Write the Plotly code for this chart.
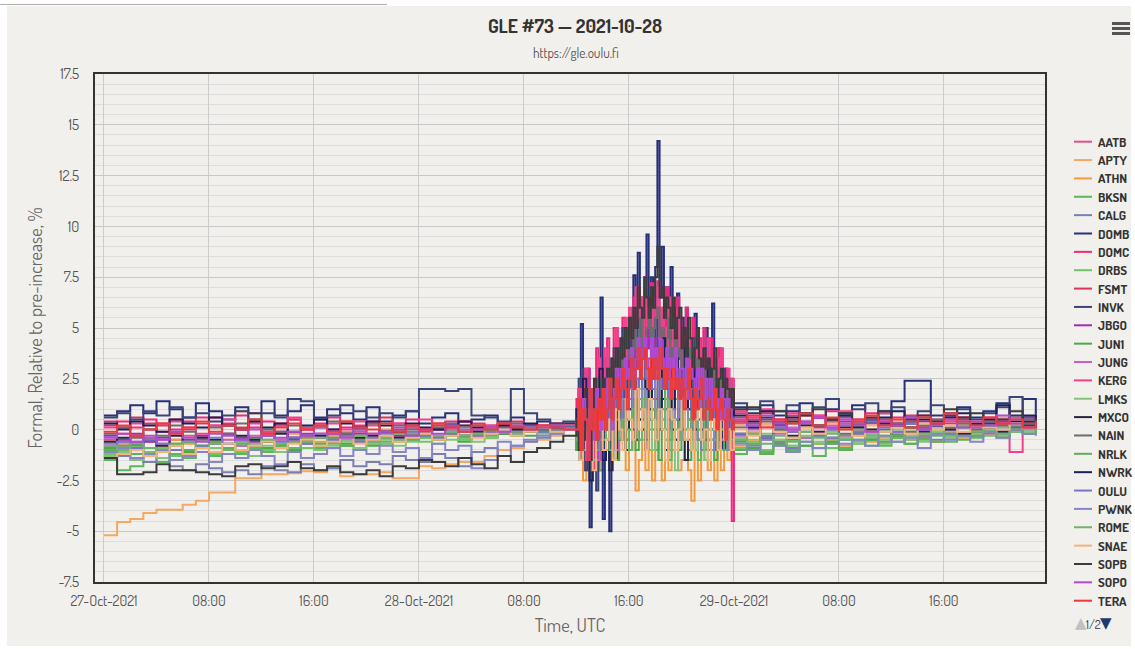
import pandas as pd
import plotly.graph_objects as go

# ---------------- data (percent, relative to pre-increase) ----------------
STATIONS = ["AATB", "APTY", "ATHN", "BKSN", "CALG", "DOMB", "DOMC", "DRBS", "FSMT",
            "INVK", "JBGO", "JUN1", "JUNG", "KERG", "LMKS", "MXCO", "NAIN", "NRLK",
            "NWRK", "OULU", "PWNK", "ROME", "SNAE", "SOPB", "SOPO", "TERA"]

# hourly 27-Oct 00:00 .. 28-Oct 11:00 ; burst 28-Oct 12:00 .. 24:00 (48 x 15-min or 72 x 10-min) ;
# hourly 29-Oct 00:00 .. 23:00
PRE_START, PRE_N = "2021-10-27 00:00", 36
BURST_START, BURST_HOURS = "2021-10-28 12:00", 12
POST_START, POST_N = "2021-10-29 00:00", 24

AATB_PRE = [-0.5,-0.6,-0.3,-0.4,-0.7,-0.5,-0.3,-0.4,-0.6,-0.2,-0.4,-0.5,
            -0.3,-0.1,-0.4,-0.3,-0.2,-0.5,-0.3,-0.1,-0.2,-0.4,-0.1,-0.2,
            0.0,-0.3,-0.1,0.1,-0.2,0.0,0.1,-0.1,0.2,0.0,0.1,0.3]
APTY_PRE = [-5.2,-4.55,-4.4,-4.1,-3.95,-3.95,-3.7,-3.5,-3.1,-3.1,-2.4,-2.4,
            -2.2,-2.2,-2.15,-2.05,-2.1,-1.9,-2.3,-2.2,-2.2,-2.1,-2.4,-2.4,
            -1.8,-1.9,-1.7,-1.6,-1.6,-1.3,-1.0,-0.9,-0.6,-0.5,-0.3,0.0]
ATHN_PRE = [-0.9,-0.7,-1.0,-0.6,-0.8,-0.5,-0.7,-0.4,-0.6,-0.5,0.9,0.8,
            -0.3,-0.5,-0.2,-0.4,-0.6,-0.3,-0.1,-0.4,-0.2,0.0,-0.3,-0.1,
            -0.2,0.1,-0.1,0.2,0.0,-0.2,0.1,0.3,0.0,0.2,0.1,0.2]
BKSN_PRE = [-1.5,-2.0,-1.8,-1.3,-1.6,-1.2,-1.4,-1.1,-1.3,-1.0,-1.2,-0.9,
            -1.1,-0.8,-1.0,-0.7,-0.9,-0.6,-0.8,-0.5,-0.7,-0.6,-0.4,-0.5,
            -0.3,-0.5,-0.2,-0.4,-0.1,-0.3,-0.2,0.0,-0.1,0.1,0.0,0.1]
CALG_PRE = [-1.0,-1.3,-1.2,-1.6,-1.4,-1.8,-2.0,-1.7,-1.9,-2.1,-2.0,-2.2,
            -1.8,-2.0,-2.1,-1.7,-2.0,-1.9,-1.5,-1.8,-1.6,-1.7,-1.3,-1.5,
            -1.6,-1.2,-1.4,-1.8,-1.1,-0.9,-1.3,-0.8,-0.6,-0.4,-0.2,0.0]
DOMB_PRE = [0.7,0.9,1.2,0.8,1.4,1.0,0.6,1.3,0.9,0.5,1.1,0.8,
            1.4,0.7,0.9,1.2,0.6,1.0,0.8,0.5,1.1,0.4,0.7,0.9,
            0.3,0.6,0.8,0.2,0.5,0.7,0.3,0.6,0.2,0.4,0.1,0.3]
DOMC_PRE = [0.2,0.4,0.1,0.5,0.3,0.0,0.4,0.6,0.2,0.3,0.7,0.1,
            0.4,0.2,0.5,0.0,0.3,0.6,0.1,0.2,0.4,-0.1,0.3,0.5,
            0.0,0.2,0.4,-0.1,0.3,0.1,0.2,0.4,0.0,0.2,0.3,0.1]
DRBS_PRE = [-1.2,-1.0,-1.4,-1.1,-0.9,-1.3,-1.0,-0.8,-1.2,-0.9,-1.1,-0.7,
            -1.0,-0.8,-0.6,-0.9,-0.7,-0.5,-0.8,-0.6,-0.4,-0.7,-0.5,-0.3,
            -0.6,-0.4,-0.2,-0.5,-0.3,-0.1,-0.2,-0.3,0.0,-0.1,0.1,0.0]
FSMT_PRE = [0.4,0.1,0.6,0.3,0.2,0.5,0.0,0.3,0.6,0.2,0.1,0.4,
            -0.1,0.3,0.5,0.0,0.2,-0.2,0.4,0.1,0.3,0.6,0.0,0.2,
            -0.1,0.3,0.1,0.4,0.0,0.2,0.3,-0.1,0.2,0.1,0.3,0.0]
INVK_PRE = [0.6,0.8,0.5,0.9,0.7,1.1,0.6,0.8,0.4,0.7,0.9,0.5,
            0.8,0.6,1.5,1.4,0.5,0.7,1.2,0.9,0.6,0.8,0.6,0.9,
            2.0,2.0,1.9,2.0,0.7,0.6,0.4,2.0,0.8,0.5,0.3,0.4]
JBGO_PRE = [-0.3,-0.5,-0.2,-0.6,-0.4,-0.1,-0.5,-0.3,-0.7,-0.2,-0.4,-0.6,
            -0.3,-0.1,-0.5,-0.2,-0.4,0.0,-0.3,-0.2,-0.5,-0.1,-0.3,0.1,
            -0.2,-0.4,0.0,-0.1,-0.3,0.1,-0.2,0.0,0.2,-0.1,0.1,0.0]
JUN1_PRE = [-0.9,-1.1,-0.8,-1.2,-1.0,-0.7,-1.1,-0.9,-0.6,-1.0,-0.8,-0.5,
            -0.9,-0.7,-1.0,-0.6,-0.8,-0.4,-0.7,-0.5,-0.8,-0.3,-0.6,-0.4,
            -0.2,-0.5,-0.3,-0.6,-0.1,-0.4,-0.2,0.0,-0.3,-0.1,0.1,0.0]
JUNG_PRE = [-0.7,-0.8,-0.6,-0.9,-0.5,-0.8,-0.6,-0.4,-0.7,-0.5,-0.8,-0.3,
            -0.6,-0.5,-0.4,-0.7,-0.3,-0.5,-0.2,-0.6,-0.4,-0.1,-0.5,-0.3,
            -0.2,-0.4,0.0,-0.3,-0.1,-0.2,0.1,-0.1,0.0,0.1,-0.1,0.1]
KERG_PRE = [0.1,-0.2,0.3,0.0,-0.1,0.4,0.1,-0.2,0.2,0.5,0.0,0.3,
            -0.1,0.2,0.6,0.1,-0.2,0.3,0.0,0.4,0.2,-0.1,0.3,0.1,
            0.5,0.0,0.2,0.4,-0.1,0.2,0.3,0.1,0.0,0.2,0.1,0.2]
LMKS_PRE = [-1.3,-1.1,-1.5,-1.2,-1.4,-1.0,-1.3,-1.1,-0.9,-1.2,-1.0,-1.3,
            -0.8,-1.1,-0.9,-0.7,-1.0,-0.8,-0.6,-0.9,-0.7,-0.5,-0.8,-0.6,
            -0.4,-0.7,-0.5,-0.3,-0.6,-0.4,-0.2,-0.3,-0.1,-0.2,0.0,0.1]
MXCO_PRE = [-0.6,-0.4,-0.7,-0.5,-0.8,-0.3,-0.6,-0.4,-0.5,-0.7,-0.3,-0.5,
            -0.6,-0.2,-0.4,-0.5,-0.3,-0.6,-0.2,-0.4,-0.3,-0.1,-0.4,-0.2,
            -0.3,0.0,-0.2,-0.3,-0.1,0.0,-0.2,0.1,-0.1,0.0,0.1,0.0]
NAIN_PRE = [-0.2,0.1,-0.4,0.0,-0.3,0.2,-0.1,-0.5,0.1,-0.2,0.3,-0.4,
            0.0,-0.1,0.2,-0.3,0.1,0.4,-0.2,0.0,0.3,-0.1,0.2,0.0,
            -0.3,0.1,0.3,-0.1,0.2,0.0,0.1,0.3,-0.1,0.0,0.2,0.1]
NRLK_PRE = [-1.0,-0.8,-1.2,-0.9,-1.1,-0.7,-1.0,-0.8,-0.6,-0.9,-0.7,-1.0,
            -0.5,-0.8,-0.6,-0.4,-0.7,-0.5,-0.8,-0.3,-0.6,-0.4,-0.2,-0.5,
            -0.3,-0.4,-0.1,-0.3,-0.2,0.0,-0.2,-0.1,0.1,-0.1,0.0,0.1]
NWRK_PRE = [0.3,0.0,0.4,0.2,-0.1,0.5,0.3,0.1,0.6,0.2,0.0,0.4,
            0.1,0.3,-0.1,0.2,0.5,0.0,0.3,0.1,0.4,0.2,-0.1,0.3,
            0.1,0.0,0.2,0.4,0.1,-0.1,0.2,0.0,0.3,0.1,0.0,0.1]
OULU_PRE = [-0.8,-0.6,-0.9,-0.5,-0.7,-1.0,-0.6,-0.8,-0.4,-0.7,-0.5,-0.8,
            -0.3,-0.6,-0.4,-0.7,-0.2,-0.5,-0.3,-0.6,-0.4,-0.2,-0.5,-0.1,
            -0.3,-0.4,-0.2,0.0,-0.3,-0.1,0.0,-0.2,0.1,-0.1,0.0,0.1]
PWNK_PRE = [-1.1,-0.9,-1.4,-1.2,-1.0,-1.5,-1.3,-1.1,-1.6,-1.2,-1.4,-1.0,
            -1.3,-1.7,-1.1,-1.4,-1.2,-0.9,-1.3,-1.0,-1.2,-0.8,-1.1,-0.9,
            -1.4,-0.7,-1.0,-0.8,-1.9,-1.5,-0.6,-0.8,-0.5,-0.3,-0.2,0.0]
ROME_PRE = [-0.8,-1.0,-0.7,-0.9,-1.1,-0.8,-0.6,-0.9,-0.7,-1.0,-0.6,-0.8,
            -0.5,-0.7,-0.9,-0.6,-0.4,-0.7,-0.5,-0.3,-0.6,-0.4,-0.5,-0.2,
            -0.4,-0.3,-0.1,-0.3,-0.2,0.0,-0.1,-0.2,0.0,0.1,-0.1,0.0]
SNAE_PRE = [-1.4,-1.2,-1.0,-1.3,-1.1,-0.8,-1.2,-0.9,-1.1,-0.7,-1.0,-0.8,
            -0.6,-0.9,-0.7,-0.5,-0.8,-0.6,-0.4,-0.7,-0.5,-0.3,-0.6,-0.4,
            -0.2,-0.5,-0.3,-0.1,-0.4,-0.2,0.0,-0.3,-0.1,0.1,-0.1,0.0]
SOPB_PRE = [-1.4,-2.2,-2.2,-2.1,-1.7,-2.0,-2.0,-2.1,-2.2,-2.3,-1.8,-1.7,
            -1.9,-1.8,-1.6,-1.9,-2.0,-1.8,-2.1,-2.2,-2.0,-2.3,-1.8,-1.9,
            -1.5,-1.6,-1.8,-1.4,-1.7,-1.9,-1.3,-1.6,-1.1,-0.9,-0.6,-0.3]
SOPO_PRE = [-0.4,-0.2,-0.6,-0.3,-0.5,-0.1,-0.4,-0.6,-0.2,-0.3,-0.5,0.0,
            -0.3,-0.4,-0.1,-0.3,0.1,-0.2,-0.4,0.0,-0.2,-0.1,0.1,-0.3,
            0.0,-0.2,0.2,-0.1,0.0,0.1,-0.1,0.2,0.0,0.1,0.2,0.0]
TERA_PRE = [-0.1,0.2,-0.3,0.0,0.3,-0.2,0.1,0.4,-0.1,0.2,0.0,0.5,
            -0.2,0.1,0.3,0.0,0.2,-0.1,0.4,0.1,0.0,0.3,-0.1,0.2,
            0.0,0.3,0.1,-0.1,0.2,0.0,0.3,0.1,0.0,0.2,0.1,0.0]

# 15-minute burst values (48)
AATB_BURST = [-0.5,1.0,-1.5,0.5,-1.0,1.5,0.0,-2.0,1.0,-0.5,0.5,2.0,
              -1.0,0.5,1.5,-0.5,2.0,0.5,1.0,2.5,0.0,1.5,3.0,1.0,
              2.0,0.5,2.5,1.0,0.0,2.0,1.5,-0.5,1.0,2.5,0.5,1.5,
              -1.0,1.0,2.0,0.0,1.5,-0.5,0.5,1.0,-1.0,0.5,1.5,0.0]
APTY_BURST = [0.5,-1.0,1.5,0.0,-1.5,1.0,-0.5,0.5,2.0,-1.0,0.0,1.5,
              1.0,2.0,0.5,2.5,1.5,3.0,2.0,1.0,3.5,2.5,1.5,3.0,
              2.0,1.0,2.5,1.5,0.5,2.0,1.0,2.5,0.0,1.5,1.0,-0.5,
              2.0,0.5,1.0,-0.5,1.5,0.0,0.5,1.0,-0.5,0.5,0.0,-1.0]
ATHN_BURST = [-1.0,0.5,-2.5,0.0,-1.5,1.0,-0.5,-2.0,0.5,-1.0,-2.0,0.0,
              -1.5,-0.5,1.0,-2.0,-1.0,0.0,-3.0,-1.5,0.5,-2.0,-1.0,-2.5,
              0.0,-1.5,-2.5,-0.5,-2.0,-1.0,0.5,-2.0,-1.5,-0.5,-2.0,-3.5,
              -1.0,-2.5,0.0,-1.5,-2.0,-0.5,-2.5,-1.0,-2.0,0.0,-1.5,-1.0]
BKSN_BURST = [-0.5,1.0,-1.5,0.0,1.5,-1.0,0.5,-2.0,1.0,0.0,-1.0,1.5,
              -0.5,0.5,1.0,-1.0,0.5,1.5,0.0,-0.5,1.0,2.0,0.0,1.5,
              -1.0,0.5,1.5,0.0,-1.5,1.0,0.5,-0.5,1.5,0.0,-1.0,0.5,
              1.0,-1.5,0.0,1.0,-0.5,0.5,-1.0,0.0,1.0,-0.5,0.0,-1.0]
CALG_BURST = [0.0,-1.0,1.0,-0.5,0.5,-1.5,0.0,1.0,-1.0,0.5,-0.5,0.0,
              1.5,-0.5,0.5,1.0,0.0,2.0,1.0,0.5,2.5,1.5,0.5,2.0,
              1.0,1.5,0.0,2.0,0.5,1.0,-0.5,1.5,0.0,1.0,0.5,-0.5,
              1.0,0.0,-1.0,0.5,0.0,-0.5,1.0,-1.0,0.0,0.5,-0.5,0.0]
DRBS_BURST = [0.5,-1.0,0.0,1.5,-0.5,-1.5,1.0,0.0,-1.0,1.5,0.5,-0.5,
              1.0,0.0,2.0,0.5,1.5,1.0,2.5,0.5,1.5,2.0,1.0,2.5,
              0.5,1.5,2.0,0.0,1.0,1.5,-0.5,1.0,0.5,2.0,0.0,1.0,
              -1.0,0.5,1.5,0.0,0.5,-0.5,1.0,0.0,-1.0,0.5,0.0,-0.5]
FSMT_BURST = [-1.0,0.5,1.5,-0.5,0.0,1.0,-1.5,0.5,2.0,0.0,-0.5,1.5,
              0.5,2.0,1.0,2.5,1.5,3.0,2.0,2.5,3.5,2.0,3.0,2.5,
              1.5,3.0,2.0,2.5,1.5,2.0,3.0,1.0,2.0,1.5,2.5,1.0,
              1.5,0.5,2.0,1.0,0.5,1.5,0.0,1.0,0.5,-0.5,1.0,0.0]
JBGO_BURST = [1.0,-0.5,2.0,0.5,-1.0,1.5,-1.5,2.5,0.0,1.0,-0.5,2.0,
              1.0,2.5,1.5,3.5,2.5,4.0,3.0,4.5,3.5,5.0,4.0,3.0,
              4.5,3.5,5.0,2.5,4.0,3.0,3.5,2.0,4.0,2.5,3.0,1.5,
              3.5,2.0,2.5,1.0,3.0,1.5,2.0,0.5,2.5,1.0,1.5,0.5]
JUN1_BURST = [-1.0,0.5,1.0,-0.5,-2.0,0.5,0.0,1.0,-1.0,-0.5,1.5,0.0,
              -1.5,0.5,1.0,-0.5,0.0,1.5,-1.0,0.5,1.0,-0.5,1.5,0.0,
              1.0,-1.5,0.5,1.0,-0.5,0.0,1.5,-1.0,0.5,0.0,-1.5,1.0,
              0.0,-0.5,1.0,-1.0,0.5,0.0,-1.5,0.5,-0.5,0.0,1.0,-1.0]
JUNG_BURST = [0.5,-1.0,1.0,-0.5,1.5,0.0,-1.5,0.5,1.0,-0.5,0.0,1.5,
              -1.0,0.5,1.0,0.0,1.5,0.5,2.0,1.0,0.5,2.0,1.5,0.5,
              1.0,2.5,0.0,1.5,1.0,0.5,2.0,0.0,1.0,1.5,-0.5,1.0,
              0.5,1.5,0.0,1.0,-0.5,0.5,1.0,0.0,-0.5,1.0,0.0,0.5]
LMKS_BURST = [0.0,-1.5,0.5,1.0,-1.0,0.0,1.5,-0.5,-1.5,0.5,0.0,-1.0,
              1.0,-0.5,0.5,1.5,-1.0,0.0,1.0,2.0,-0.5,0.5,1.5,-1.0,
              0.0,2.0,0.5,-0.5,1.0,0.0,-2.0,0.5,1.0,-0.5,0.0,1.5,
              -1.0,0.0,0.5,-1.5,0.0,1.0,-0.5,-1.0,0.5,0.0,-0.5,0.5]
MXCO_BURST = [0.5,-1.5,1.0,-0.5,0.0,1.5,-1.0,0.5,-0.5,1.0,-2.0,0.0,
              1.0,-0.5,0.5,-1.0,1.0,0.0,-0.5,1.5,0.0,-1.0,0.5,1.0,
              -0.5,0.0,1.5,-1.0,0.5,0.0,-0.5,1.0,0.0,-1.5,0.5,0.0,
              1.0,-0.5,0.0,0.5,-1.0,0.0,1.0,-0.5,0.0,-1.0,0.5,0.0]
NRLK_BURST = [1.0,-0.5,-1.0,0.5,0.0,1.0,-1.0,0.5,-0.5,1.0,0.0,-1.5,
              0.5,1.5,0.0,1.0,2.0,0.5,1.5,1.0,2.5,1.5,0.5,2.0,
              1.0,1.5,0.0,2.0,1.0,0.5,1.5,0.0,1.0,-0.5,0.5,1.0,
              0.0,-0.5,1.0,0.5,-1.0,0.0,0.5,-0.5,0.0,-1.0,0.5,0.0]
NWRK_BURST = [1.0,-1.0,2.5,0.0,-2.5,1.5,-0.5,3.0,-1.5,0.5,2.0,-1.0,
              1.5,3.0,0.5,2.5,1.0,3.5,2.0,0.5,4.0,2.0,1.0,3.5,
              2.5,1.0,4.5,2.0,3.0,1.0,3.5,0.5,2.5,4.0,1.0,3.0,
              0.0,2.5,1.5,-0.5,3.0,0.5,2.0,-1.0,1.5,0.5,-0.5,1.0]
OULU_BURST = [0.5,-0.5,1.0,0.0,-1.0,1.5,0.5,-0.5,1.0,2.0,0.0,1.0,
              1.5,0.5,2.5,1.5,2.0,3.0,2.5,1.5,3.5,2.5,3.0,2.0,
              3.5,2.5,2.0,3.0,1.5,2.5,2.0,1.0,2.5,1.5,2.0,1.0,
              1.5,2.0,0.5,1.5,1.0,0.0,1.5,0.5,1.0,-0.5,0.5,0.0]
PWNK_BURST = [-0.5,1.0,0.0,-1.5,0.5,1.0,-1.0,0.0,1.5,-0.5,0.5,-1.0,
              1.0,0.0,1.5,0.5,2.0,1.0,0.0,1.5,2.0,0.5,1.5,1.0,
              2.5,0.5,1.0,1.5,0.0,1.0,0.5,1.5,-0.5,1.0,0.0,0.5,
              1.0,-0.5,0.5,0.0,1.0,-1.0,0.5,0.0,-0.5,0.5,-1.0,0.0]
ROME_BURST = [-0.5,0.0,1.0,-1.0,0.5,-1.5,0.0,1.0,-0.5,0.5,-1.0,0.0,
              1.0,-0.5,0.5,0.0,-1.0,1.0,0.5,-0.5,1.5,0.0,0.5,1.0,
              -0.5,0.5,0.0,1.5,-1.0,0.5,0.0,-0.5,1.0,0.0,0.5,-1.0,
              0.5,0.0,-0.5,1.0,-0.5,0.0,0.5,-1.0,0.0,0.5,-0.5,0.0]
SNAE_BURST = [0.0,-1.5,0.5,-1.0,1.0,-2.0,0.0,1.5,-1.0,-0.5,0.5,-1.5,
              1.0,0.0,-1.0,1.5,0.5,-0.5,2.0,0.0,1.0,-1.0,1.5,0.5,
              -0.5,1.0,0.0,-1.5,1.0,0.5,-1.0,0.0,1.5,-0.5,0.0,-1.0,
              0.5,1.0,-0.5,0.0,-1.5,0.5,0.0,-1.0,0.5,-0.5,0.0,-1.0]

# 10-minute burst values (72) for the strongest stations
DOMB_BURST = [-0.5,2.0,5.2,0.5,-1.5,3.0,-4.8,1.0,-2.0,2.5,-0.5,6.5,
              -4.4,2.0,0.0,-5.0,3.5,1.0,-1.5,4.0,0.5,2.5,5.0,1.5,
              4.5,3.0,7.6,5.0,8.7,4.0,6.5,3.5,9.6,6.0,7.5,5.0,
              8.0,14.2,6.5,9.0,5.0,7.0,4.5,8.0,3.5,6.0,6.7,4.0,
              5.5,2.5,6.0,3.0,1.5,4.5,5.7,2.0,4.0,0.5,3.5,5.0,
              1.0,3.0,6.2,2.0,0.0,4.0,1.5,-1.0,3.0,0.5,2.5,-0.5]
DOMC_BURST = [1.5,-1.0,2.5,0.0,-2.0,3.0,1.0,-1.5,2.0,4.0,0.5,-1.0,
              3.0,1.5,4.5,0.5,2.5,5.0,3.0,1.5,4.0,5.5,2.5,4.5,
              5.5,4.0,6.5,5.0,7.0,6.0,4.5,7.5,5.5,6.5,7.2,5.0,
              6.5,7.3,5.5,6.0,4.5,7.0,5.0,6.0,4.0,5.5,6.5,3.5,
              5.0,4.0,6.0,3.0,4.5,5.5,3.5,2.5,4.5,3.0,5.0,2.0,
              3.5,4.5,2.0,3.0,1.5,4.0,2.5,0.5,3.0,1.5,2.0,-4.5]
KERG_BURST = [0.5,2.0,-1.5,1.0,3.0,-0.5,1.5,-2.0,2.5,0.0,3.5,1.0,
              2.0,4.0,0.5,2.5,1.5,3.5,5.0,2.0,4.0,3.0,5.5,3.5,
              6.0,4.5,5.0,7.0,5.5,6.5,4.0,7.3,5.0,6.0,4.5,6.5,
              5.5,7.0,4.5,6.0,5.0,4.0,6.5,5.5,3.5,5.0,4.0,5.5,
              3.0,4.5,5.0,2.5,4.0,3.5,2.0,5.0,3.0,4.0,2.5,3.5,
              4.5,2.0,3.0,1.0,3.5,2.5,4.0,0.5,2.0,3.0,1.0,2.5]
SOPO_BURST = [0.0,1.0,-1.0,1.5,0.5,-1.5,2.0,0.5,-0.5,2.0,1.0,0.0,
              2.0,0.5,2.5,1.5,0.0,2.0,3.0,1.5,3.0,2.0,3.5,2.5,
              3.0,4.0,2.5,3.5,4.5,3.0,4.0,4.5,3.0,3.5,4.5,3.0,
              4.0,3.0,4.5,3.5,3.0,4.0,2.5,3.5,3.0,4.0,2.0,3.0,
              3.0,2.0,3.5,1.5,3.0,2.5,1.5,3.0,2.0,3.0,1.5,2.5,
              1.5,2.5,1.0,2.0,1.5,0.5,2.0,1.5,0.0,1.5,1.0,0.5]
SOPB_BURST = [0.5,-1.0,1.5,-0.5,2.0,0.0,-1.5,1.0,2.5,-0.5,1.5,0.5,
              2.5,1.0,3.0,1.5,3.5,2.0,4.0,2.5,4.5,3.5,5.0,4.0,
              5.5,4.5,6.0,5.0,7.0,6.0,5.5,7.5,6.5,5.5,7.0,6.0,
              7.5,9.0,6.5,7.0,5.5,6.5,6.0,5.0,6.5,4.5,5.5,6.0,
              4.0,5.0,3.5,5.5,4.5,3.0,4.0,5.0,3.5,2.5,4.0,3.0,
              3.5,2.0,3.0,4.0,1.5,2.5,3.0,1.5,2.5,2.0,1.0,2.0]
NAIN_BURST = [0.0,1.0,-0.5,1.5,0.0,2.0,-1.0,0.5,1.5,0.0,2.5,1.0,
              0.5,2.0,1.0,3.0,1.5,2.5,3.5,2.0,3.0,4.0,2.5,3.5,
              4.0,3.0,5.0,4.0,4.5,5.5,3.5,4.5,5.0,6.0,4.0,5.0,
              5.5,6.0,4.5,5.0,3.5,4.5,5.5,3.0,4.0,5.0,3.5,4.0,
              3.0,4.0,2.5,3.5,4.0,2.0,3.0,3.5,2.5,3.0,1.5,3.0,
              2.0,2.5,1.0,3.0,2.0,1.5,2.5,1.0,2.0,0.5,1.5,1.0]
INVK_BURST = [0.5,2.5,-1.0,3.0,-2.0,1.5,-2.5,2.0,0.0,-3.0,1.0,2.5,
              -0.5,3.5,1.0,-1.5,2.5,4.0,0.5,3.0,2.0,5.0,1.5,3.5,
              2.0,5.0,3.0,6.0,4.5,2.5,5.5,3.5,6.5,4.0,5.0,3.0,
              6.0,3.5,5.5,4.5,2.5,5.0,3.0,4.5,6.0,2.0,4.5,3.5,
              1.5,5.0,2.0,4.0,3.0,1.0,4.5,1.5,3.5,0.5,3.0,2.0,
              4.0,0.5,3.0,-1.0,2.5,1.0,0.0,3.0,-0.5,1.5,2.0,0.0]
TERA_BURST = [0.0,1.5,-1.0,1.0,0.5,-1.5,2.0,0.0,1.0,-0.5,1.5,0.5,
              2.0,0.0,1.0,2.5,0.5,1.5,2.5,1.0,2.0,3.0,2.0,1.0,
              2.5,3.5,2.0,3.0,4.0,2.5,3.5,4.0,3.0,2.0,3.5,2.5,
              3.5,2.5,4.0,3.0,2.0,3.0,2.5,1.5,3.0,2.0,2.5,1.5,
              2.5,1.0,2.0,3.0,1.5,0.5,2.0,1.0,1.5,2.5,0.5,1.0,
              1.5,0.5,1.0,2.0,0.0,1.0,1.5,0.5,-0.5,1.0,0.5,0.0]

AATB_POST = [0.3,0.6,0.2,0.5,0.0,0.4,0.7,0.1,0.3,0.5,-0.1,0.4,
             0.2,0.6,0.0,0.3,0.5,0.1,0.4,-0.2,0.3,0.6,0.2,0.4]
APTY_POST = [0.2,-0.1,0.3,0.0,0.4,0.1,-0.2,0.3,0.1,0.5,0.0,0.2,
             0.4,-0.1,0.3,0.1,0.5,0.2,0.0,0.4,0.6,0.2,0.3,0.5]
ATHN_POST = [-0.8,-0.5,-1.0,-0.6,-0.9,-0.4,-0.7,-0.5,-0.8,-0.3,-0.6,-0.4,
             -0.2,-0.5,-0.3,-0.6,-0.1,-0.4,-0.2,0.0,-0.3,-0.1,0.1,-0.2]
BKSN_POST = [-1.2,-0.9,-1.1,-0.7,-1.0,-0.8,-1.3,-0.6,-0.9,-0.7,-0.5,-0.8,
             -0.4,-0.7,-0.5,-0.3,-0.6,-0.2,-0.4,-0.1,-0.3,0.0,-0.2,0.1]
CALG_POST = [-0.5,-0.8,-0.3,-0.6,-0.9,-0.4,-0.2,-0.7,-0.5,-0.1,-0.4,-0.6,
             -0.2,-0.3,0.0,-0.5,-0.2,0.1,-0.3,0.0,0.2,-0.1,0.1,0.3]
DOMB_POST = [1.1,0.8,1.2,0.7,0.9,1.3,0.6,1.0,0.8,1.2,0.5,0.9,
             1.4,2.4,2.4,0.7,0.8,1.1,0.6,0.9,1.3,0.7,1.5,0.8]
DOMC_POST = [0.8,0.5,0.9,0.4,0.7,0.3,0.6,0.9,0.2,0.5,0.8,0.3,
             0.6,0.4,0.1,0.5,0.7,0.2,0.4,0.6,0.3,0.0,0.4,0.2]
DRBS_POST = [-0.9,-0.6,-1.0,-0.5,-0.8,-0.4,-0.7,-0.9,-0.3,-0.6,-0.4,-0.7,
             -0.2,-0.5,-0.3,-0.1,-0.4,-0.2,0.0,-0.3,0.1,-0.1,0.2,0.0]
FSMT_POST = [0.6,0.3,0.8,0.2,0.5,0.7,0.1,0.4,0.6,0.0,0.3,0.5,
             0.2,0.7,0.1,0.4,0.3,0.6,0.0,0.2,0.5,0.1,0.3,0.4]
INVK_POST = [1.3,1.0,1.4,0.9,1.2,0.8,1.1,1.5,0.7,1.0,1.3,0.8,
             1.1,0.6,0.9,1.2,0.7,1.0,0.5,0.8,1.1,1.6,0.6,0.9]
JBGO_POST = [0.4,0.1,0.5,0.2,-0.1,0.3,0.6,0.0,0.4,0.2,0.5,-0.1,
             0.3,0.1,0.4,0.2,0.0,0.5,0.3,0.1,0.4,0.2,0.6,0.3]
JUN1_POST = [-0.6,-0.9,-0.4,-0.7,-0.5,-0.8,-0.3,-0.6,-0.4,-0.2,-0.5,-0.3,
             -0.6,-0.1,-0.4,-0.2,0.0,-0.3,-0.1,0.1,-0.2,0.0,0.2,-0.1]
JUNG_POST = [-0.3,0.0,-0.5,-0.2,0.1,-0.4,-0.1,0.2,-0.3,0.0,-0.2,0.3,
             -0.1,0.1,-0.3,0.2,0.0,-0.2,0.3,0.1,-0.1,0.2,0.0,0.3]
KERG_POST = [0.9,0.6,1.0,0.5,0.8,0.3,0.7,0.4,0.9,0.2,0.6,0.8,
             0.3,0.5,0.7,0.2,0.4,0.6,0.1,0.5,0.3,-1.1,0.2,0.4]
LMKS_POST = [-0.4,-0.7,-0.2,-0.5,-0.8,-0.3,-0.6,-0.1,-0.4,-0.7,-0.2,-0.5,
             0.0,-0.3,-0.6,-0.1,-0.4,0.1,-0.2,0.0,-0.3,0.2,-0.1,0.1]
MXCO_POST = [-0.2,0.1,-0.4,0.0,-0.3,0.2,-0.1,-0.4,0.1,-0.2,0.0,0.3,
             -0.3,0.1,-0.1,0.2,0.0,-0.2,0.3,0.1,-0.1,0.2,0.4,0.0]
NAIN_POST = [0.1,-0.2,0.4,0.0,0.3,-0.1,0.2,0.5,-0.2,0.1,0.4,0.0,
             0.3,-0.1,0.2,0.5,0.1,0.3,-0.1,0.4,0.2,0.0,0.5,0.3]
NRLK_POST = [-1.0,-0.7,-1.2,-0.8,-1.1,-0.6,-0.9,-0.7,-1.0,-0.5,-0.8,-0.6,
             -0.3,-0.7,-0.4,-0.6,-0.2,-0.5,-0.3,-0.1,-0.4,0.0,-0.2,0.1]
NWRK_POST = [0.7,0.4,0.9,0.3,0.6,0.8,0.2,0.5,0.7,0.1,0.4,0.6,
             0.9,0.3,0.5,0.2,0.6,0.8,0.3,0.5,1.2,0.4,0.7,0.5]
OULU_POST = [-0.2,0.2,-0.4,0.1,-0.1,0.3,-0.3,0.0,0.2,-0.2,0.4,0.1,
             -0.1,0.3,0.0,0.2,-0.2,0.4,0.1,0.3,0.0,0.5,0.2,0.4]
PWNK_POST = [-0.7,-1.0,-0.5,-0.8,-1.1,-0.6,-0.9,-0.4,-0.7,-0.5,-0.8,-0.3,
             -0.6,-0.4,-0.9,-0.2,-0.5,-0.3,-0.6,-0.1,-0.4,0.0,-0.2,-0.3]
ROME_POST = [-0.5,-0.2,-0.7,-0.3,-0.6,-0.1,-0.4,-0.2,-0.5,0.0,-0.3,-0.1,
             -0.4,0.1,-0.2,0.0,-0.3,0.2,-0.1,0.1,-0.2,0.2,0.0,0.1]
SNAE_POST = [0.0,-0.3,0.2,-0.1,-0.4,0.1,-0.2,0.3,0.0,-0.3,0.2,-0.1,
             0.1,-0.2,0.3,0.0,0.2,-0.1,0.4,0.1,0.0,0.3,0.1,0.2]
SOPB_POST = [1.0,1.1,0.6,0.9,0.4,0.7,1.0,0.5,0.8,0.3,0.6,0.9,
             0.2,0.5,0.7,0.4,1.0,0.6,0.8,0.3,0.5,0.9,0.2,0.6]
SOPO_POST = [0.5,0.2,0.7,0.3,0.0,0.4,0.6,0.1,0.5,0.3,-0.1,0.4,
             0.2,0.6,0.0,0.3,0.5,0.1,0.4,0.2,0.7,0.3,0.1,0.4]
TERA_POST = [0.4,0.7,0.1,0.5,0.3,0.8,0.2,0.6,0.0,0.4,0.7,0.2,
             0.5,0.1,0.6,0.3,0.8,0.4,0.2,0.6,0.3,0.5,0.1,0.4]

COLORS = ["#e0508a", "#f5a862", "#f39a3a", "#5cb85c", "#7b7fb0", "#27307a", "#f0287c",
          "#74c26a", "#dc3558", "#3a4478", "#a02cb8", "#4ea84a", "#cc5ccc", "#f2408e",
          "#86c27a", "#262640", "#6c6c6c", "#62ad5a", "#1c1f5a", "#7474d4", "#8585c8",
          "#6fb36f", "#f5b27a", "#3c3c3c", "#b04ad4", "#ec3a3a"]

Y_TICKS = [-7.5, -5, -2.5, 0, 2.5, 5, 7.5, 10, 12.5, 15, 17.5]
Y_TICK_TEXT = ["-7.5", "-5", "-2.5", "0", "2.5", "5", "7.5", "10", "12.5", "15", "17.5"]
X_TICKS = ["2021-10-27 00:00", "2021-10-27 08:00", "2021-10-27 16:00",
           "2021-10-28 00:00", "2021-10-28 08:00", "2021-10-28 16:00",
           "2021-10-29 00:00", "2021-10-29 08:00", "2021-10-29 16:00"]
X_TICK_TEXT = ["27-Oct-2021", "08:00", "16:00", "28-Oct-2021", "08:00", "16:00",
               "29-Oct-2021", "08:00", "16:00"]

# ---------------- build ----------------
g = globals()
pre_t = list(pd.date_range(PRE_START, periods=PRE_N, freq="h"))
post_t = list(pd.date_range(POST_START, periods=POST_N, freq="h"))

FONT = "Dosis, 'DejaVu Sans Condensed', 'Liberation Sans Narrow', sans-serif"

fig = go.Figure()
for name, col in zip(STATIONS, COLORS):
    pre, bur, post = g[name + "_PRE"], g[name + "_BURST"], g[name + "_POST"]
    assert len(pre) == PRE_N and len(post) == POST_N and len(bur) in (48, 72), name
    step_min = BURST_HOURS * 60 // len(bur)
    burst_t = list(pd.date_range(BURST_START, periods=len(bur), freq=f"{step_min}min"))
    fig.add_trace(go.Scatter(x=pre_t + burst_t + post_t, y=pre + bur + post, name=name,
                             mode="lines", showlegend=False,
                             line=dict(color=col, width=2, shape="hv")))

L, R, T, B = 95, 90, 74, 67
W, H = 1135, 649
PW, PH = W - L - R, H - T - B


def px(xp):
    return (xp - L) / PW


def py(yp):
    return (H - B - yp) / PH


shapes = [
    # chart container (light textured background) on white page
    dict(type="rect", xref="paper", yref="paper", x0=px(7), x1=px(1131), y0=py(646), y1=py(6),
         fillcolor="#f2f0ec", line=dict(width=0), layer="below"),
    dict(type="line", xref="paper", yref="paper", x0=px(0), x1=px(387), y0=py(4.5), y1=py(4.5),
         line=dict(color="#b0b0b0", width=1)),
]
for yy in (23.5, 28.5, 33.5):
    shapes.append(dict(type="line", xref="paper", yref="paper", x0=px(1112), x1=px(1130),
                       y0=py(yy), y1=py(yy), line=dict(color="#555555", width=3)))

annotations = [
    dict(text="https://gle.oulu.fi", xref="paper", yref="paper", x=px(576), y=py(52),
         showarrow=False, xanchor="center", yanchor="middle",
         font=dict(family=FONT, size=13.3, color="#555555")),
    dict(text="▲", xref="paper", yref="paper", x=px(1080.5), y=py(623), showarrow=False,
         xanchor="center", yanchor="middle",
         font=dict(family="DejaVu Sans", size=15, color="#c0c0c0")),
    dict(text="1/2", xref="paper", yref="paper", x=px(1093.5), y=py(624), showarrow=False,
         xanchor="center", yanchor="middle", font=dict(family=FONT, size=12.5, color="#333333")),
    dict(text="▼", xref="paper", yref="paper", x=px(1106), y=py(623), showarrow=False,
         xanchor="center", yanchor="middle",
         font=dict(family="DejaVu Sans", size=15, color="#1f3a6e")),
]

# legend (page 1 of 2), laid out like the original
LEG_TOP, LEG_STEP = 141.7, 18.36
for i, (name, col) in enumerate(zip(STATIONS, COLORS)):
    yy = LEG_TOP + i * LEG_STEP
    shapes.append(dict(type="line", xref="paper", yref="paper", x0=px(1074), x1=px(1092),
                       y0=py(yy), y1=py(yy), line=dict(color=col, width=2)))
    annotations.append(dict(text=name, xref="paper", yref="paper", x=px(1096), y=py(yy),
                            showarrow=False, xanchor="left", yanchor="middle",
                            font=dict(family=FONT, size=13, color="#333333", weight="bold")))

fig.update_layout(
    width=W, height=H,
    margin=dict(l=L, r=R, t=T, b=B, autoexpand=False),
    paper_bgcolor="#ffffff",
    plot_bgcolor="rgba(0,0,0,0)",
    font=dict(family=FONT, color="#555555", size=14),
    title=dict(text="GLE #73 — 2021-10-28", x=575 / W, xref="container", xanchor="center",
               y=1 - 26 / H, yref="container", yanchor="middle",
               font=dict(family=FONT, size=19, color="#333333", weight="bold")),
    showlegend=False,
    shapes=shapes,
    annotations=annotations,
    xaxis=dict(
        type="date",
        range=["2021-10-26 23:19", "2021-10-29 23:42"],
        tickvals=X_TICKS, ticktext=X_TICK_TEXT,
        showgrid=True, gridcolor="#cccccc", gridwidth=1,
        showline=True, linecolor="#333333", linewidth=1.5, mirror=True,
        ticks="", ticklabelstandoff=5,
        tickfont=dict(family=FONT, size=14.5, color="#555555"),
        title=dict(text="Time, UTC", standoff=11,
                   font=dict(family=FONT, size=18.5, color="#666666")),
        zeroline=False,
    ),
    yaxis=dict(
        range=[-7.5, 17.5],
        tickvals=Y_TICKS, ticktext=Y_TICK_TEXT,
        showgrid=True, gridcolor="#c8c8c8", gridwidth=1,
        minor=dict(dtick=0.5, tick0=0, showgrid=True, gridcolor="#dddddd", gridwidth=1),
        showline=True, linecolor="#333333", linewidth=1.5, mirror=True,
        ticks="", ticklabelstandoff=11,
        tickfont=dict(family=FONT, size=15, color="#555555"),
        title=dict(text="Formal, Relative to pre-increase, %", standoff=9,
                   font=dict(family=FONT, size=18.5, color="#666666")),
        zeroline=False,
    ),
)

fig.write_html("out.html", config={"displayModeBar": False})
